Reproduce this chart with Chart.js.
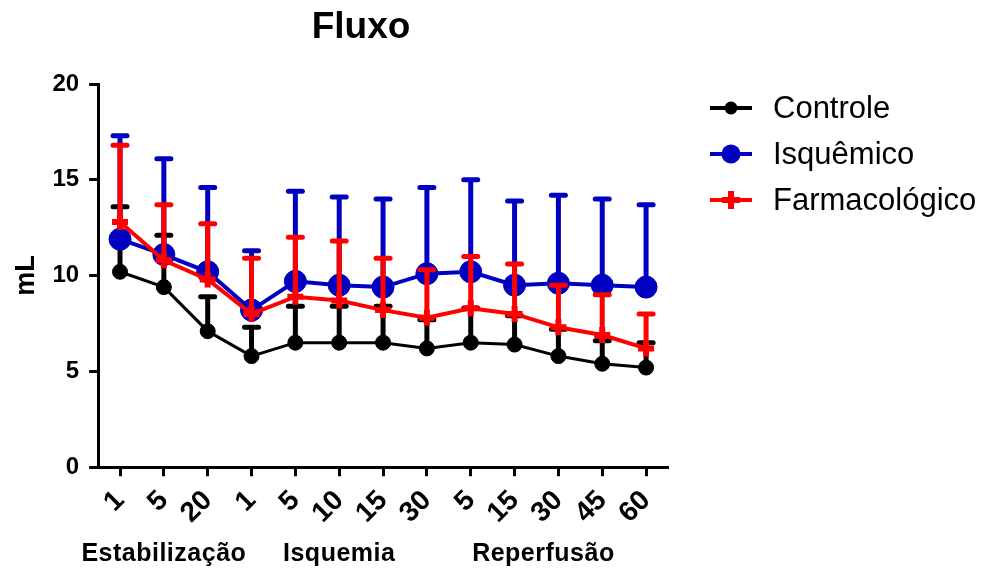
<!DOCTYPE html>
<html>
<head>
<meta charset="utf-8">
<title>Fluxo</title>
<script src="https://cdn.jsdelivr.net/npm/chart.js@4.4.0/dist/chart.umd.min.js"></script>
<style>
  html, body { margin: 0; padding: 0; background: #fff; }
</style>
</head>
<body>
<canvas id="fluxo" width="982" height="570"></canvas>
<script>
// tempos (min) em cada fase do protocolo
const tempos = ['1', '5', '20', '1', '5', '10', '15', '30', '5', '15', '30', '45', '60'];
const fases = ['Estabilização', 'Isquemia', 'Reperfusão'];
const faseInicio = [0, 3, 8];
const faseFim = [2, 7, 12];

// médias e desvio padrão (mL)
const controle = [10.2, 9.4, 7.1, 5.8, 6.5, 6.5, 6.5, 6.2, 6.5, 6.4, 5.8, 5.4, 5.2];
const controleDP = [3.4, 2.7, 1.8, 1.5, 1.9, 1.9, 1.9, 1.5, 1.8, 1.5, 1.4, 1.2, 1.3];
const isquemico = [11.9, 11.1, 10.2, 8.2, 9.7, 9.5, 9.4, 10.1, 10.2, 9.5, 9.6, 9.5, 9.4];
const isquemicoDP = [5.4, 5.0, 4.4, 3.1, 4.7, 4.6, 4.6, 4.5, 4.8, 4.4, 4.6, 4.5, 4.3];
const farmaco = [12.8, 10.8, 9.8, 8.0, 8.9, 8.7, 8.2, 7.8, 8.3, 8.0, 7.3, 6.9, 6.2];
const farmacoDP = [4.0, 2.9, 2.9, 2.9, 3.1, 3.1, 2.7, 2.5, 2.7, 2.6, 2.2, 2.1, 1.8];

const FONTE = "'Liberation Sans', Arial, sans-serif";
// ajuste horizontal do rótulo de cada fase (px)
const faseAjuste = [0, 0, -15];

function desenhaMarcador(ctx, estilo, x, y, r, cor, largura) {
    ctx.save();
    ctx.fillStyle = cor;
    ctx.strokeStyle = cor;
    if (estilo === 'cross') {
        ctx.lineWidth = largura;
        ctx.beginPath();
        ctx.moveTo(x - r, y); ctx.lineTo(x + r, y);
        ctx.moveTo(x, y - r); ctx.lineTo(x, y + r);
        ctx.stroke();
    } else {
        ctx.beginPath();
        ctx.arc(x, y, r, 0, Math.PI * 2);
        ctx.fill();
    }
    ctx.restore();
}

// barras de desvio (só para cima)
const barrasDP = {
    id: 'barrasDP',
    afterDatasetDraw(chart, args) {
        const ds = chart.data.datasets[args.index];
        const escalaY = chart.scales.y;
        const ctx = chart.ctx;
        ctx.save();
        ctx.strokeStyle = ds.borderColor;
        ctx.lineWidth = 5;
        args.meta.data.forEach((pt, i) => {
            const topo = escalaY.getPixelForValue(ds.data[i] + ds.dp[i]);
            ctx.lineCap = 'butt';
            ctx.beginPath();
            ctx.moveTo(pt.x, pt.y);
            ctx.lineTo(pt.x, topo);
            ctx.stroke();
            ctx.lineCap = 'round';
            ctx.beginPath();
            ctx.moveTo(pt.x - 7, topo);
            ctx.lineTo(pt.x + 7, topo);
            ctx.stroke();
        });
        ctx.restore();
    }
};

// título, fases sob o eixo x e legenda à direita
const textos = {
    id: 'textos',
    afterDraw(chart) {
        const ctx = chart.ctx;
        const area = chart.chartArea;
        const x = chart.scales.x;
        ctx.save();
        ctx.fillStyle = '#000';

        ctx.font = 'bold 37px ' + FONTE;
        ctx.textAlign = 'center';
        ctx.textBaseline = 'alphabetic';
        ctx.fillText('Fluxo', (area.left + area.right) / 2 - 22, 38);

        ctx.font = 'bold 25px ' + FONTE;
        ctx.letterSpacing = '0.5px';
        fases.forEach((f, i) => {
            const cx = x.getPixelForValue((faseInicio[i] + faseFim[i]) / 2) + faseAjuste[i];
            ctx.fillText(f, cx, 561);
        });
        ctx.letterSpacing = '0px';

        ctx.font = '31px ' + FONTE;
        ctx.textAlign = 'left';
        ctx.textBaseline = 'middle';
        chart.data.datasets.forEach((ds, i) => {
            const y = area.top + 24 + i * 46;
            const x0 = area.right + 42;
            ctx.strokeStyle = ds.borderColor;
            ctx.lineWidth = 4;
            ctx.beginPath();
            ctx.moveTo(x0, y);
            ctx.lineTo(x0 + 42, y);
            ctx.stroke();
            desenhaMarcador(ctx, ds.pointStyle, x0 + 21, y, ds.legendaRaio, ds.borderColor, ds.pointBorderWidth);
            ctx.fillText(ds.label, area.right + 105, y + 1);
        });
        ctx.restore();
    }
};

const eixo = {
    grid: { display: true, drawOnChartArea: false, offset: false, tickLength: 9, tickWidth: 3, tickColor: '#000' },
    border: { display: true, width: 3, color: '#000' }
};

new Chart(document.getElementById('fluxo'), {
    type: 'line',
    data: {
        labels: tempos,
        datasets: [
            {
                label: 'Controle', data: controle, dp: controleDP,
                borderColor: '#000000', backgroundColor: '#000000',
                borderWidth: 3, pointStyle: 'circle', pointRadius: 7.5, pointBorderWidth: 1,
                legendaRaio: 6.5, order: 3
            },
            {
                label: 'Isquêmico', data: isquemico, dp: isquemicoDP,
                borderColor: '#0000c0', backgroundColor: '#0000c0',
                borderWidth: 4, pointStyle: 'circle', pointRadius: 11, pointBorderWidth: 1,
                legendaRaio: 9.5, order: 2
            },
            {
                label: 'Farmacológico', data: farmaco, dp: farmacoDP,
                borderColor: '#ff0000', backgroundColor: '#ff0000',
                borderWidth: 4, pointStyle: 'cross', pointRadius: 8, pointBorderWidth: 6,
                legendaRaio: 9, order: 1
            }
        ]
    },
    options: {
        responsive: false,
        animation: false,
        layout: { padding: { top: 84, right: 314, bottom: 32, left: 10 } },
        elements: { line: { tension: 0 } },
        plugins: {
            legend: { display: false },
            tooltip: { enabled: false }
        },
        scales: {
            x: {
                offset: true,
                grid: eixo.grid,
                border: eixo.border,
                ticks: {
                    autoSkip: false, minRotation: 45, maxRotation: 45, padding: 8,
                    color: '#000', font: { family: FONTE, size: 28, weight: 'bold' }
                }
            },
            y: {
                min: 0, max: 20,
                grid: eixo.grid,
                border: eixo.border,
                ticks: {
                    stepSize: 5, padding: 10,
                    color: '#000', font: { family: FONTE, size: 24, weight: 'bold' }
                },
                title: {
                    display: true, text: 'mL', color: '#000',
                    font: { family: FONTE, size: 27, weight: 'bold' },
                    padding: { top: 0, bottom: 0 }
                }
            }
        }
    },
    plugins: [barrasDP, textos]
});
</script>
</body>
</html>
